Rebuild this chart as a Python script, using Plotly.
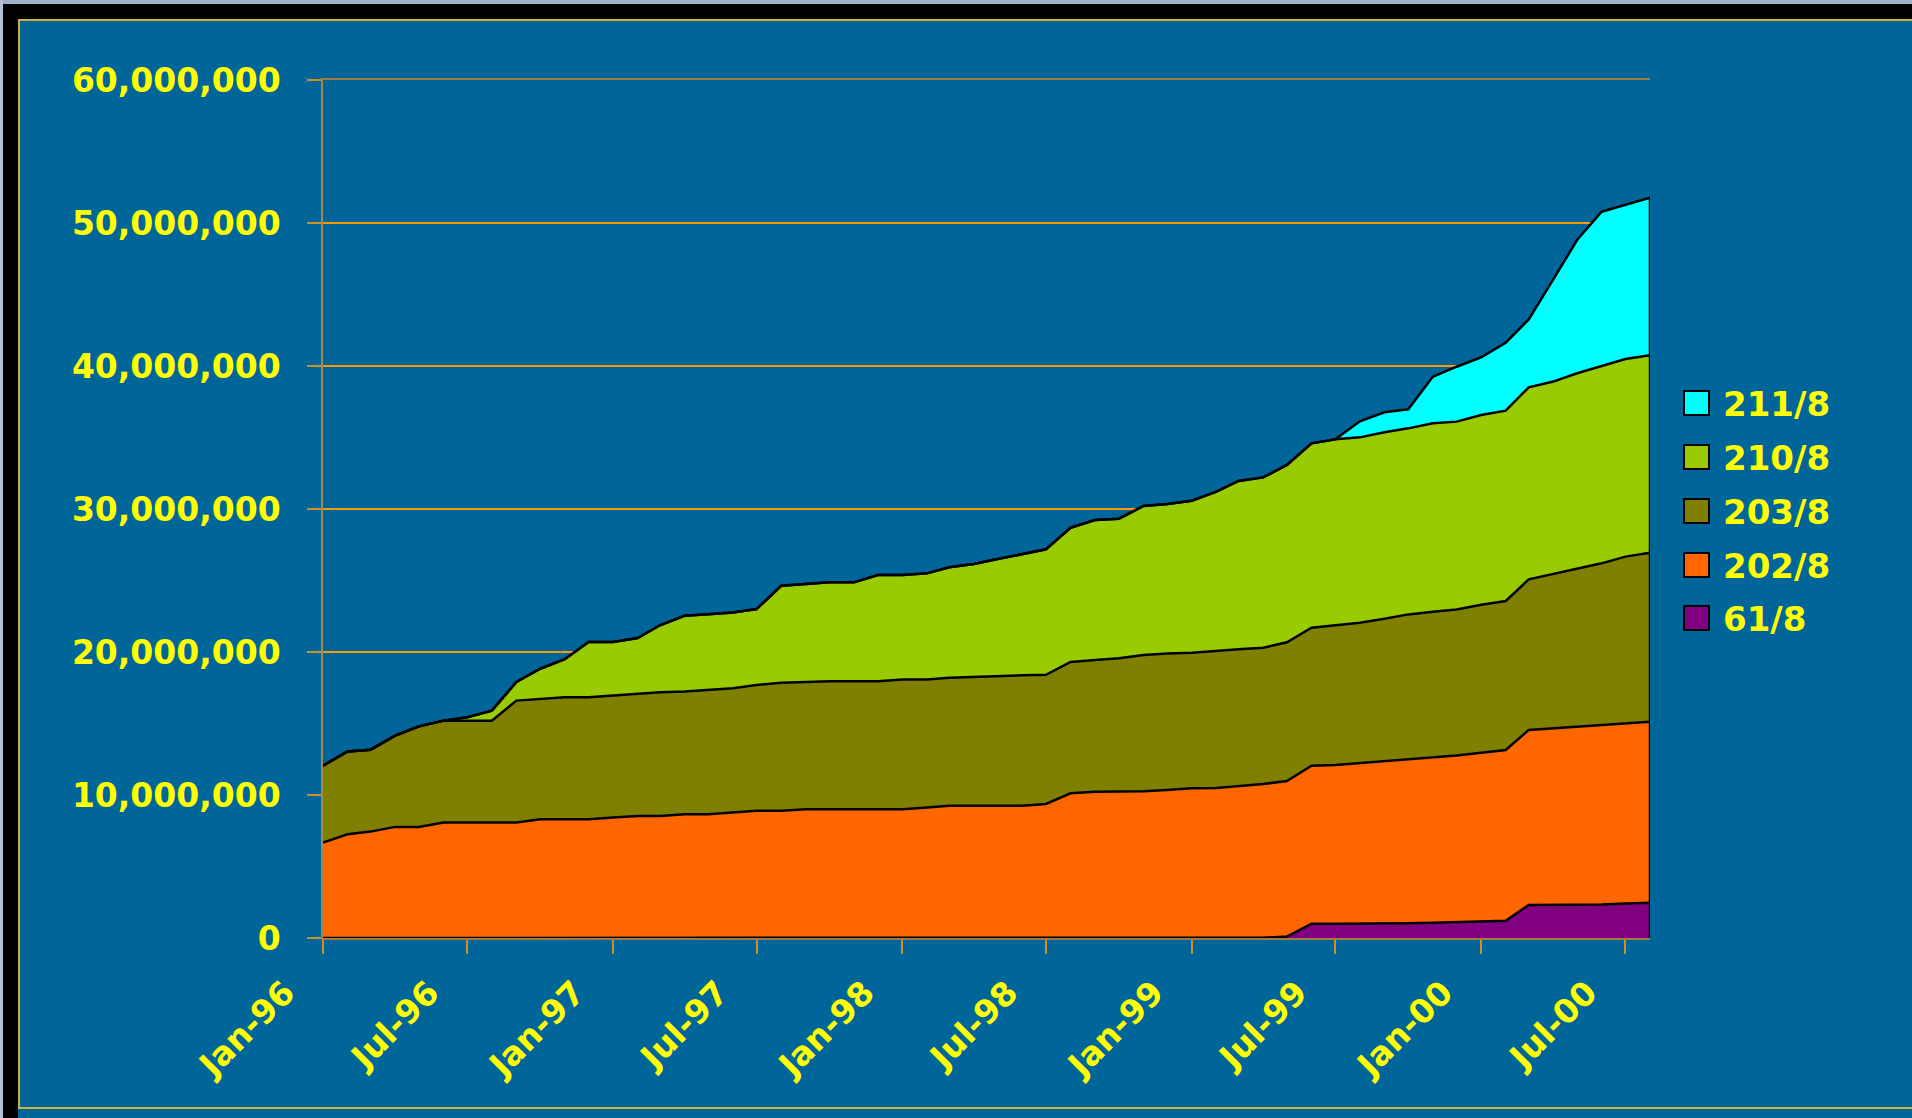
import plotly.graph_objects as go

# ---------------- data (values in millions) ----------------
months = [
    "1996-01-01", "1996-02-01", "1996-03-01", "1996-04-01", "1996-05-01", "1996-06-01",
    "1996-07-01", "1996-08-01", "1996-09-01", "1996-10-01", "1996-11-01", "1996-12-01",
    "1997-01-01", "1997-02-01", "1997-03-01", "1997-04-01", "1997-05-01", "1997-06-01",
    "1997-07-01", "1997-08-01", "1997-09-01", "1997-10-01", "1997-11-01", "1997-12-01",
    "1998-01-01", "1998-02-01", "1998-03-01", "1998-04-01", "1998-05-01", "1998-06-01",
    "1998-07-01", "1998-08-01", "1998-09-01", "1998-10-01", "1998-11-01", "1998-12-01",
    "1999-01-01", "1999-02-01", "1999-03-01", "1999-04-01", "1999-05-01", "1999-06-01",
    "1999-07-01", "1999-08-01", "1999-09-01", "1999-10-01", "1999-11-01", "1999-12-01",
    "2000-01-01", "2000-02-01", "2000-03-01", "2000-04-01", "2000-05-01", "2000-06-01",
    "2000-07-01", "2000-08-01",
]

s61_8 = [
    0, 0, 0, 0, 0, 0, 0, 0, 0, 0,
    0, 0, 0, 0, 0, 0, 0, 0, 0, 0,
    0, 0, 0, 0, 0, 0, 0, 0, 0, 0,
    0, 0, 0, 0, 0, 0, 0, 0, 0, 0.02,
    0.10, 1.00, 1.00, 1.00, 1.00, 1.03, 1.07, 1.12, 1.19, 1.21,
    2.31, 2.31, 2.31, 2.35, 2.42, 2.47,
]
s202_8 = [
    6.67, 7.25, 7.44, 7.77, 7.77, 8.07, 8.07, 8.07, 8.07, 8.30,
    8.30, 8.30, 8.42, 8.54, 8.54, 8.65, 8.65, 8.77, 8.89, 8.89,
    9.00, 9.00, 9.00, 9.00, 9.00, 9.12, 9.25, 9.25, 9.25, 9.25,
    9.37, 10.12, 10.23, 10.23, 10.26, 10.35, 10.47, 10.49, 10.63, 10.75,
    10.88, 11.05, 11.10, 11.24, 11.38, 11.49, 11.56, 11.65, 11.77, 11.94,
    12.24, 12.35, 12.47, 12.52, 12.59, 12.66,
]
s203_8 = [
    5.38, 5.80, 5.73, 6.38, 7.03, 7.13, 7.13, 7.13, 8.53, 8.43,
    8.54, 8.54, 8.54, 8.54, 8.65, 8.59, 8.71, 8.70, 8.81, 8.96,
    8.90, 8.96, 8.96, 8.96, 9.08, 8.96, 8.95, 9.02, 9.05, 9.12,
    9.04, 9.18, 9.21, 9.33, 9.53, 9.55, 9.48, 9.60, 9.56, 9.53,
    9.70, 9.65, 9.76, 9.81, 9.95, 10.11, 10.19, 10.21, 10.35, 10.42,
    10.53, 10.79, 11.07, 11.33, 11.66, 11.82,
]
s210_8 = [
    0, 0, 0, 0, 0, 0, 0.24, 0.70, 1.30, 2.10,
    2.66, 3.86, 3.74, 3.90, 4.68, 5.29, 5.28, 5.29, 5.30, 6.78,
    6.85, 6.91, 6.91, 7.42, 7.30, 7.42, 7.72, 7.88, 8.20, 8.46,
    8.77, 9.39, 9.79, 9.76, 10.42, 10.45, 10.63, 11.12, 11.77, 11.91,
    12.40, 12.89, 13.01, 12.96, 13.03, 13.01, 13.17, 13.13, 13.26, 13.31,
    13.43, 13.46, 13.64, 13.80, 13.82, 13.80,
]
s211_8 = [
    0, 0, 0, 0, 0, 0, 0, 0, 0, 0,
    0, 0, 0, 0, 0, 0, 0, 0, 0, 0,
    0, 0, 0, 0, 0, 0, 0, 0, 0, 0,
    0, 0, 0, 0, 0, 0, 0, 0, 0, 0,
    0, 0, 0, 1.12, 1.40, 1.33, 3.26, 3.84, 4.04, 4.75,
    4.75, 7.15, 9.32, 10.79, 10.77, 11.02,
]

series_names = ["61/8", "202/8", "203/8", "210/8", "211/8"]
series_values = [s61_8, s202_8, s203_8, s210_8, s211_8]
series_colors = ["#800080", "#FF6600", "#808000", "#99CC00", "#00FFFF"]

x_tick_vals = ["1996-01-01", "1996-07-01", "1997-01-01", "1997-07-01", "1998-01-01",
               "1998-07-01", "1999-01-01", "1999-07-01", "2000-01-01", "2000-07-01"]
x_tick_text = ["Jan-96", "Jul-96", "Jan-97", "Jul-97", "Jan-98",
               "Jul-98", "Jan-99", "Jul-99", "Jan-00", "Jul-00"]
y_tick_vals = [0, 10e6, 20e6, 30e6, 40e6, 50e6, 60e6]
UNIT = 1e6

# ---------------- layout geometry (pixels) ----------------
W, H = 1912, 1118
PL, PR, PT, PB = 323, 1650, 80, 938


def fx(p):
    return (p - PL) / (PR - PL)


def fy(p):
    return (PB - p) / (PB - PT)


BG = "#006699"
YELLOW = "#FFFF00"
GOLD = "#CDB238"
FONT = "DejaVu Sans"

fig = go.Figure()
for name, vals, col in zip(series_names, series_values, series_colors):
    fig.add_trace(go.Scatter(
        x=months, y=[v * UNIT for v in vals], name=name,
        mode="lines", stackgroup="one",
        line=dict(color="black", width=2.5),
        fillcolor=col, showlegend=False, hoverinfo="x+y+name",
    ))

# right edge outline of the stacked area
total_last = sum(v[-1] for v in series_values) * UNIT
fig.add_trace(go.Scatter(
    x=[months[-1], months[-1]], y=[0, total_last], mode="lines",
    line=dict(color="black", width=2.5), showlegend=False,
    cliponaxis=False, hoverinfo="skip",
))

shapes = [
    # light strips at top / left edge
    dict(type="rect", xref="paper", yref="paper", x0=fx(0), x1=fx(W), y0=fy(0), y1=fy(4),
         fillcolor="#9FB2CA", line=dict(width=0), layer="above"),
    dict(type="rect", xref="paper", yref="paper", x0=fx(0), x1=fx(3), y0=fy(0), y1=fy(H),
         fillcolor="#B4C0D4", line=dict(width=0), layer="above"),
    # black frame strips
    dict(type="rect", xref="paper", yref="paper", x0=fx(3), x1=fx(W), y0=fy(4), y1=fy(19),
         fillcolor="black", line=dict(width=0), layer="above"),
    dict(type="rect", xref="paper", yref="paper", x0=fx(3), x1=fx(18), y0=fy(4), y1=fy(H),
         fillcolor="black", line=dict(width=0), layer="above"),
    # gold frame line
    dict(type="rect", xref="paper", yref="paper", x0=fx(19), x1=fx(W + 10), y0=fy(20), y1=fy(1108),
         fillcolor="rgba(0,0,0,0)", line=dict(color=GOLD, width=2), layer="above"),
]

annotations = []
legend_rows = [403, 457, 511, 565, 618]
for i, (name, col) in enumerate(zip(series_names[::-1], series_colors[::-1])):
    cy = legend_rows[i]
    shapes.append(dict(type="rect", xref="paper", yref="paper",
                       x0=fx(1684), x1=fx(1709), y0=fy(cy - 12), y1=fy(cy + 12),
                       fillcolor=col, line=dict(color="black", width=2), layer="above"))
    annotations.append(dict(xref="paper", yref="paper", x=fx(1721), y=fy(cy + 1),
                            xanchor="left", yanchor="middle", text=name, showarrow=False,
                            font=dict(family=FONT, size=34, color=YELLOW, weight="bold")))

fig.update_layout(
    width=W, height=H,
    margin=dict(l=PL, r=W - PR, t=PT, b=H - PB, pad=0),
    paper_bgcolor=BG, plot_bgcolor=BG,
    showlegend=False,
    shapes=shapes, annotations=annotations,
    xaxis=dict(
        type="date", range=[months[0], months[-1]],
        tickvals=x_tick_vals, ticktext=x_tick_text, tickangle=-45,
        tickfont=dict(family=FONT, size=33, color=YELLOW, weight="bold"),
        ticks="outside", ticklen=14, tickwidth=1.5, tickcolor="#D09028",
        showgrid=False, zeroline=False,
        showline=True, linecolor="#A07A40", linewidth=2, mirror=True,
        ticklabelstandoff=6, ticklabelshift=-38,
    ),
    yaxis=dict(
        range=[0, 60e6], tickvals=y_tick_vals, tickformat=",d",
        tickfont=dict(family=FONT, size=33, color=YELLOW, weight="bold"),
        ticks="outside", ticklen=14, tickwidth=1.5, tickcolor="#D09028",
        showgrid=True, gridcolor="#FF9900", gridwidth=1.5,
        zeroline=False, showline=True, linecolor="#A08850", linewidth=1.5,
        ticklabelstandoff=20,
    ),
)

fig.write_html("out.html", config={"displayModeBar": False},
               post_script="document.body.style.margin='0';document.body.style.overflow='hidden';")
